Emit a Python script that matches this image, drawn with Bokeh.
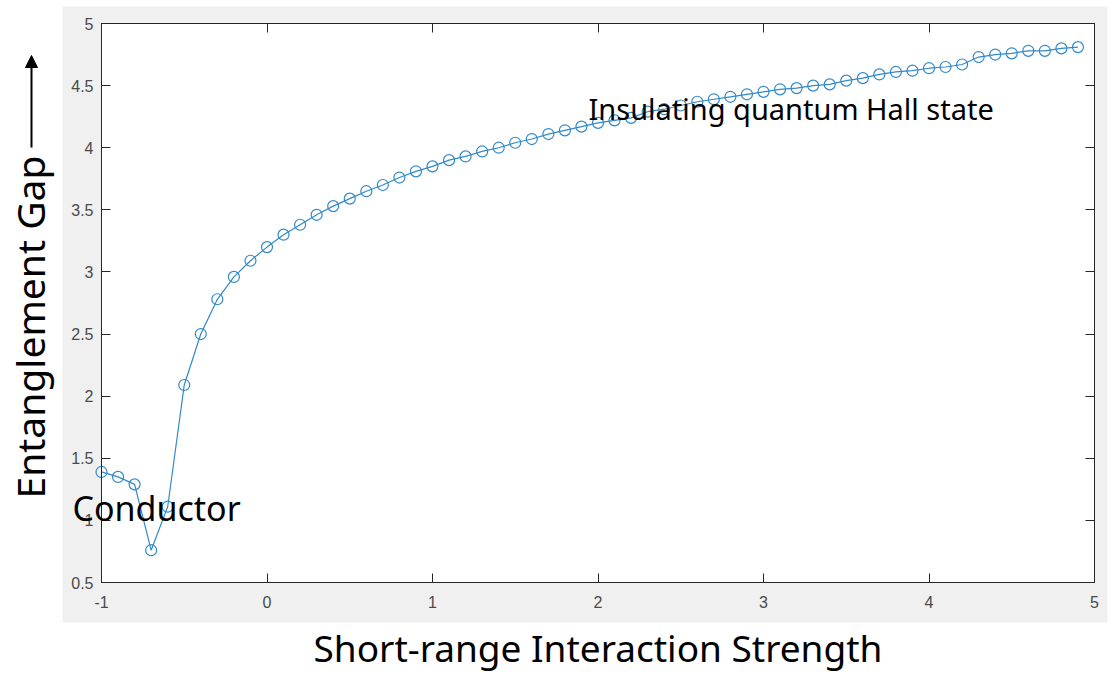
from bokeh.plotting import figure
from bokeh.models import (Range1d, FixedTicker, CustomJSTickFormatter, LinearAxis,
                          BoxAnnotation, Label, Arrow, NormalHead, ColumnDataSource)
from bokeh.embed import file_html
from bokeh.resources import INLINE

# ---- data ----
interaction = [-1.0, -0.9, -0.8, -0.7, -0.6, -0.5, -0.4, -0.3, -0.2, -0.1,
               0.0, 0.1, 0.2, 0.3, 0.4, 0.5, 0.6, 0.7, 0.8, 0.9,
               1.0, 1.1, 1.2, 1.3, 1.4, 1.5, 1.6, 1.7, 1.8, 1.9,
               2.0, 2.1, 2.2, 2.3, 2.4, 2.5, 2.6, 2.7, 2.8, 2.9,
               3.0, 3.1, 3.2, 3.3, 3.4, 3.5, 3.6, 3.7, 3.8, 3.9,
               4.0, 4.1, 4.2, 4.3, 4.4, 4.5, 4.6, 4.7, 4.8, 4.9]
gap = [1.39, 1.35, 1.29, 0.76, 1.11, 2.09, 2.50, 2.78, 2.96, 3.09,
       3.20, 3.30, 3.38, 3.46, 3.53, 3.59, 3.65, 3.70, 3.76, 3.81,
       3.85, 3.90, 3.93, 3.97, 4.00, 4.04, 4.07, 4.11, 4.14, 4.17,
       4.20, 4.22, 4.24, 4.29, 4.31, 4.34, 4.37, 4.39, 4.41, 4.43,
       4.45, 4.47, 4.48, 4.50, 4.51, 4.54, 4.56, 4.59, 4.61, 4.62,
       4.64, 4.65, 4.67, 4.73, 4.75, 4.76, 4.78, 4.78, 4.80, 4.81]
x_ticks = [-1, 0, 1, 2, 3, 4, 5]
y_ticks = [0.5, 1, 1.5, 2, 2.5, 3, 3.5, 4, 4.5, 5]
x_lim = (-1, 5)
y_lim = (0.5, 5)
x_title = "Short-range Interaction Strength"
y_title = "Entanglement Gap"
note_conductor = "Conductor"
note_insulator = "Insulating quantum Hall state"

# ---- layout constants (pixels) ----
W, H = 1112, 675
BOX_L, BOX_R, BOX_T, BOX_B = 101, 1094, 23, 582      # axes box on the page
PANEL_L, PANEL_R, PANEL_T, PANEL_B = 62, 1107, 6, 622  # grey figure panel
FONT = "Noto Sans"
BLUE = "#3189c9"
AXC = "#262626"
TICKC = "#4a4a4a"
BASE_SHIFT = 0.4   # label anchor offset (fraction of font size) to land on the baseline

sx = (BOX_R - BOX_L) / (x_lim[1] - x_lim[0])
sy = (BOX_B - BOX_T) / (y_lim[1] - y_lim[0])
def X(px):  # page pixel -> data x
    return x_lim[0] + (px - BOX_L) / sx
def Y(py):  # page pixel -> data y
    return y_lim[1] - (py - BOX_T) / sy

# the frame covers the whole page; axes are pinned to the box edges
p = figure(width=W, height=H, output_backend="svg", toolbar_location=None,
           x_range=Range1d(X(0), X(W)), y_range=Range1d(Y(H), Y(0)),
           min_border=0, x_axis_location=None, y_axis_location=None)
p.border_fill_color = "white"
p.background_fill_color = "white"
p.outline_line_color = None
p.xgrid.visible = False
p.ygrid.visible = False

p.add_layout(BoxAnnotation(left=X(PANEL_L), right=X(PANEL_R), bottom=Y(PANEL_B), top=Y(PANEL_T),
                           fill_color="#f0f0f0", fill_alpha=1.0, line_alpha=0, level="underlay"))
p.add_layout(BoxAnnotation(left=x_lim[0], right=x_lim[1], bottom=y_lim[0], top=y_lim[1],
                           fill_color="white", fill_alpha=1.0, line_color=AXC, line_width=1,
                           level="underlay"))

fmt = CustomJSTickFormatter(code="return tick.toString();")
blank = CustomJSTickFormatter(code="return '';")

def style_axis(ax):
    ax.axis_line_color = AXC
    ax.major_tick_line_color = AXC
    ax.major_tick_in = 9
    ax.major_tick_out = 0
    ax.minor_tick_line_color = None
    ax.major_label_text_font = "Arial"
    ax.major_label_text_font_size = "16px"
    ax.major_label_text_color = TICKC

xb = LinearAxis(ticker=FixedTicker(ticks=x_ticks), formatter=fmt, major_label_standoff=13,
                fixed_location=y_lim[0], bounds=x_lim)
style_axis(xb)
p.add_layout(xb, "below")
yl = LinearAxis(ticker=FixedTicker(ticks=y_ticks), formatter=fmt, major_label_standoff=8,
                fixed_location=x_lim[0], bounds=y_lim)
style_axis(yl)
p.add_layout(yl, "left")
xt = LinearAxis(ticker=FixedTicker(ticks=x_ticks), formatter=blank, major_label_standoff=0,
                fixed_location=y_lim[1], bounds=x_lim)
style_axis(xt)
p.add_layout(xt, "above")
yr = LinearAxis(ticker=FixedTicker(ticks=y_ticks), formatter=blank, major_label_standoff=0,
                fixed_location=x_lim[1], bounds=y_lim)
style_axis(yr)
p.add_layout(yr, "right")

src = ColumnDataSource(dict(x=interaction, y=gap))
p.line("x", "y", source=src, line_color=BLUE, line_width=1.2)
p.scatter("x", "y", source=src, marker="circle", size=11, fill_alpha=0,
          line_color=BLUE, line_width=1.2)

def text_at(px, py_base, txt, size, align="left"):
    return Label(x=X(px), y=Y(py_base - BASE_SHIFT * size), text=txt, text_font=FONT,
                 text_font_size=f"{size}px", text_color="black", text_align=align,
                 text_baseline="alphabetic")

# annotations
p.add_layout(text_at(72, 521, note_conductor, 34))
p.add_layout(text_at(588, 120, note_insulator, 29))

# axis titles
p.add_layout(text_at(597.5, 662, x_title, 37, align="center"))
YT = 39
p.add_layout(Label(x=X(45 - BASE_SHIFT * YT), y=Y(498), text=y_title, text_font=FONT,
                   text_font_size=f"{YT}px", text_color="black", text_align="left",
                   text_baseline="alphabetic", angle=1.5707963))
p.add_layout(Arrow(x_start=X(31), y_start=Y(147), x_end=X(31), y_end=Y(55),
                   line_color="black", line_width=2,
                   end=NormalHead(size=12, fill_color="black", line_color="black")))

open("out.html", "w").write(file_html(p, INLINE))
